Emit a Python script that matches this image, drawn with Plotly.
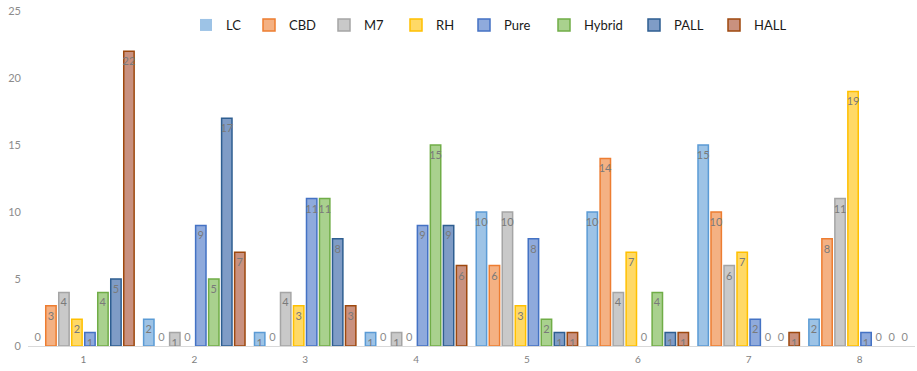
import plotly.graph_objects as go

categories = ["1", "2", "3", "4", "5", "6", "7", "8"]
series_names = ["LC", "CBD", "M7", "RH", "Pure", "Hybrid", "PALL", "HALL"]
LC = [0, 2, 1, 1, 10, 10, 15, 2]
CBD = [3, 0, 0, 0, 6, 14, 10, 8]
M7 = [4, 1, 4, 1, 10, 4, 6, 11]
RH = [2, 0, 3, 0, 3, 7, 7, 19]
Pure = [1, 9, 11, 9, 8, 0, 2, 1]
Hybrid = [4, 5, 11, 15, 2, 4, 0, 0]
PALL = [5, 17, 8, 9, 1, 1, 0, 0]
HALL = [22, 7, 3, 6, 1, 1, 1, 0]
y_ticks = [0, 5, 10, 15, 20, 25]

values = [LC, CBD, M7, RH, Pure, Hybrid, PALL, HALL]
fills = ["#9DC3E6", "#F4B183", "#C9C9C9", "#FFD966", "#8FAADC", "#A9D18E", "#7F9CC6", "#C9917F"]
lines = ["#5B9BD5", "#ED7D31", "#A5A5A5", "#FFC000", "#4472C4", "#70AD47", "#2E5E91", "#9E480E"]
# legend text start positions (page pixels)
legend_text_px = [222, 285, 360, 432, 500, 580, 670, 750]

FONT = "Lato, Carlito, Calibri, sans-serif"
W, H = 917, 371
L, T, PW, PH = 28, 11, 887, 335

fig = go.Figure()
layout_legends = {}
for i, (name, vals, fc, lc) in enumerate(zip(series_names, values, fills, lines)):
    lname = "legend" if i == 0 else f"legend{i+1}"
    fig.add_trace(go.Bar(
        name=name, x=categories, y=vals, legend=lname,
        marker=dict(color=fc, line=dict(color=lc, width=[0 if v == 0 else 1.5 for v in vals])),
        text=[str(v) for v in vals],
        textposition=["outside" if v == 0 else "inside" for v in vals],
        insidetextanchor="end",
        constraintext="none",
        cliponaxis=False,
        textangle=0,
        insidetextfont=dict(color="#7a7a7a", size=11, family=FONT),
        outsidetextfont=dict(color="#8c8c8c", size=11, family=FONT),
    ))
    xpx = legend_text_px[i] - 36 - L
    layout_legends[lname] = dict(
        orientation="h", x=xpx / PW, xanchor="left",
        y=1 - (25 - T) / PH, yanchor="middle",
        font=dict(size=13, color="#1a1a1a", family=FONT),
        itemwidth=30, bgcolor="rgba(0,0,0,0)",
    )

fig.update_layout(
    width=W, height=H,
    margin=dict(l=L, r=W - L - PW, t=T, b=H - T - PH, autoexpand=False),
    barmode="group", bargap=0.062, bargroupgap=0.2,
    uniformtext=dict(minsize=11, mode="show"),
    plot_bgcolor="white", paper_bgcolor="white",
    font=dict(family=FONT, color="#595959"),
    showlegend=True,
    xaxis=dict(showline=True, linecolor="#d9d9d9", linewidth=1, ticks="",
               tickfont=dict(size=10, color="#7f7f7f"), showgrid=False, automargin=False,
               ticklabelstandoff=4),
    yaxis=dict(range=[0, 25], tickvals=y_ticks, showgrid=False, zeroline=False,
               tickfont=dict(size=11, color="#8c8c8c"), ticks="", ticklabelstandoff=6,
               automargin=False),
    **layout_legends,
)
fig.write_html("out.html", config={"displayModeBar": False},
               post_script="document.body.style.margin='0px';")
